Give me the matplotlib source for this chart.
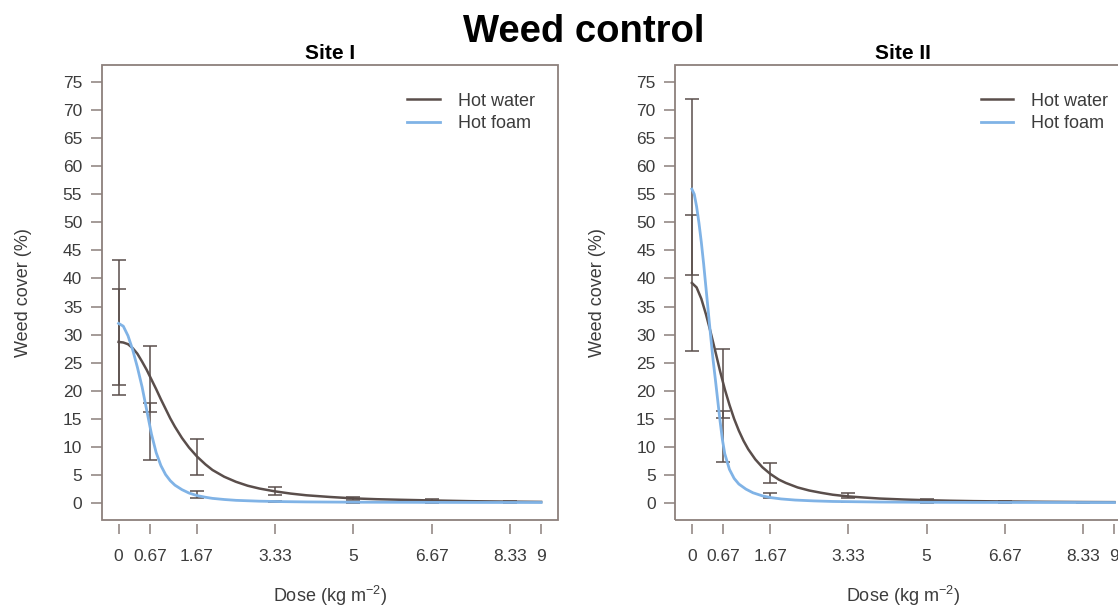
import matplotlib
matplotlib.use("Agg")
import matplotlib.pyplot as plt
from matplotlib.patches import Rectangle

plt.rcParams['font.family'] = ['Liberation Sans', 'DejaVu Sans']
plt.rcParams['mathtext.fontset'] = 'custom'
plt.rcParams['mathtext.rm'] = 'Liberation Sans'
plt.rcParams['mathtext.it'] = 'Liberation Sans:italic'

# doses with observed means and error bars
doses = [0, 0.67, 1.67, 3.33, 5, 6.67, 8.33]
xticks = [0, 0.67, 1.67, 3.33, 5, 6.67, 8.33, 9]
xtick_labels = ["0", "0.67", "1.67", "3.33", "5", "6.67", "8.33", "9"]
yticks = list(range(0, 80, 5))

# Site I
s1_water_mean = [28.7, 22.1, 8.2, 2.15, 0.85, 0.5, 0.25]
s1_water_err = [9.5, 5.8, 3.2, 0.65, 0.3, 0.15, 0.08]
s1_foam_mean = [32.1, 12.75, 1.6, 0.25, 0.15, 0.1, 0.1]
s1_foam_err = [11.1, 5.05, 0.6, 0.1, 0.05, 0.04, 0.03]

# Site II
s2_water_mean = [39.2, 21.3, 5.35, 1.4, 0.5, 0.3, 0.2]
s2_water_err = [12.1, 6.2, 1.75, 0.45, 0.2, 0.08, 0.05]
s2_foam_mean = [56.25, 11.85, 1.35, 0.2, 0.1, 0.1, 0.1]
s2_foam_err = [15.65, 4.55, 0.45, 0.08, 0.05, 0.03, 0.03]

# fitted curves
s1_water_x = [0, 0.1, 0.2, 0.3, 0.4, 0.5, 0.6, 0.7, 0.8, 0.9, 1.0, 1.1, 1.2, 1.35, 1.5,
              1.67, 1.85, 2.0, 2.25, 2.5, 2.75, 3.0, 3.33, 3.67, 4.0, 4.5, 5.0, 5.5,
              6.0, 6.67, 7.5, 8.33, 9.0]
s1_water_y = [28.7, 28.6, 28.3, 27.6, 26.6, 25.2, 23.7, 22.0, 20.3, 18.5, 16.8, 15.1,
              13.6, 11.6, 9.9, 8.3, 6.9, 5.9, 4.7, 3.8, 3.1, 2.6, 2.1, 1.7, 1.4, 1.1,
              0.85, 0.7, 0.6, 0.48, 0.35, 0.27, 0.22]
s1_foam_x = [0, 0.1, 0.2, 0.3, 0.4, 0.5, 0.6, 0.7, 0.8, 0.9, 1.0, 1.1, 1.2, 1.35, 1.5,
             1.67, 1.85, 2.0, 2.25, 2.5, 3.0, 3.5, 4.0, 5.0, 6.0, 7.0, 8.0, 9.0]
s1_foam_y = [32.0, 31.5, 29.8, 27.3, 24.2, 20.7, 16.5, 12.3, 9.0, 6.7, 5.1, 4.0, 3.2,
             2.4, 1.8, 1.35, 1.05, 0.85, 0.65, 0.5, 0.35, 0.27, 0.22, 0.17, 0.15, 0.13,
             0.12, 0.12]
s2_water_x = [0, 0.1, 0.2, 0.3, 0.4, 0.5, 0.6, 0.7, 0.8, 0.9, 1.0, 1.1, 1.2, 1.35, 1.5,
              1.67, 1.85, 2.0, 2.25, 2.5, 2.75, 3.0, 3.33, 3.67, 4.0, 4.5, 5.0, 5.5,
              6.0, 6.67, 7.5, 8.33, 9.0]
s2_water_y = [39.2, 38.4, 36.4, 33.6, 30.4, 27.0, 23.5, 20.3, 17.5, 15.0, 12.9, 11.1,
              9.6, 7.8, 6.4, 5.2, 4.2, 3.6, 2.8, 2.25, 1.85, 1.5, 1.2, 1.0, 0.82, 0.65,
              0.52, 0.43, 0.36, 0.3, 0.24, 0.2, 0.18]
s2_foam_x = [0, 0.05, 0.1, 0.15, 0.2, 0.25, 0.3, 0.35, 0.4, 0.45, 0.5, 0.55, 0.6, 0.65,
             0.7, 0.8, 0.9, 1.0, 1.15, 1.3, 1.5, 1.67, 1.9, 2.2, 2.6, 3.0, 4.0, 5.0,
             6.0, 7.5, 9.0]
s2_foam_y = [55.9, 55.0, 52.8, 49.9, 46.5, 42.6, 38.3, 34.0, 29.7, 25.6, 22.0, 18.3,
             14.6, 11.3, 8.8, 6.0, 4.4, 3.4, 2.5, 1.85, 1.3, 1.0, 0.75, 0.55, 0.4, 0.3,
             0.2, 0.15, 0.13, 0.12, 0.11]

dark = "#5a4e4b"
blue = "#80b3e6"
frame = "#8c807c"
txt = "#3c3c3c"

fig = plt.figure(figsize=(11.18, 6.06), dpi=100)
W, H = 1118, 606
ax1 = fig.add_axes([101.7 / W, (H - 520) / H, 456.3 / W, 455 / H])
ax2 = fig.add_axes([675 / W, (H - 520) / H, 456.3 / W, 455 / H])

panels = [
    (ax1, "Site I", s1_water_mean, s1_water_err, s1_foam_mean, s1_foam_err,
     s1_water_x, s1_water_y, s1_foam_x, s1_foam_y),
    (ax2, "Site II", s2_water_mean, s2_water_err, s2_foam_mean, s2_foam_err,
     s2_water_x, s2_water_y, s2_foam_x, s2_foam_y),
]

for ax, title, wm, we, fm, fe, wx, wy, fx, fy in panels:
    ax.errorbar(doses, wm, yerr=we, fmt="none", ecolor=dark, elinewidth=1.1,
                capsize=5, capthick=1.1, zorder=2)
    ax.errorbar(doses, fm, yerr=fe, fmt="none", ecolor=dark, elinewidth=1.1,
                capsize=5, capthick=1.1, zorder=2)
    ax.plot(wx, wy, color=dark, lw=1.8, label="Hot water", zorder=3)
    ax.plot(fx, fy, color=blue, lw=2.0, label="Hot foam", zorder=3)

    ax.set_xlim(-0.36, 9.36)
    ax.set_ylim(-3, 78)
    ax.set_xticks(xticks)
    ax.set_xticklabels(xtick_labels)
    ax.set_yticks(yticks)

    # R-style box with detached bottom ticks
    for s in ax.spines.values():
        s.set_visible(False)
    ax.spines["bottom"].set_position(("outward", 3))
    ax.add_patch(Rectangle((0, 0), 1, 1, transform=ax.transAxes, fill=False,
                           ec=frame, lw=1.3, clip_on=False, zorder=5))
    ax.tick_params(axis="x", length=7.5, width=1.1, color=frame, pad=10.5,
                   labelsize=12.5, labelcolor=txt)
    ax.tick_params(axis="y", length=8, width=1.1, color=frame, pad=6,
                   labelsize=12.5, labelcolor=txt)

    ax.set_title(title, fontsize=15, fontweight="bold", pad=4)
    ax.set_ylabel("Weed cover (%)", fontsize=13, color=txt, labelpad=22)
    ax.set_xlabel("Dose (kg m$^{-2}$)", fontsize=13, color=txt, labelpad=14)
    ax.legend(loc="upper right", bbox_to_anchor=(0.985, 0.975), frameon=False,
              fontsize=13, handlelength=1.8, handletextpad=1.0, labelspacing=0.3,
              labelcolor=txt)

fig.text(584 / W, (H - 32) / H, "Weed control", fontsize=27.5, fontweight="bold",
         ha="center", va="center")

fig.savefig("out.png", dpi=100)
